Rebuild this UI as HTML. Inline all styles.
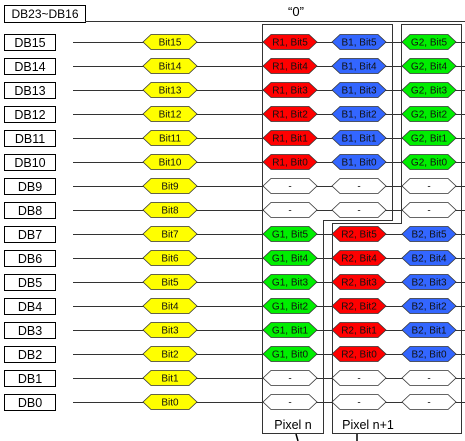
<!DOCTYPE html>
<html><head><meta charset="utf-8"><style>
body{margin:0;background:#fff;}
svg{display:block;font-family:"Liberation Sans",sans-serif;}
</style></head><body>
<svg id="c" width="465" height="441" viewBox="0 0 465 441">
<rect x="4.5" y="5.5" width="81" height="17" fill="#fff" stroke="#000"/>
<text x="45" y="18" font-size="12" text-anchor="middle">DB23~DB16</text>
<line x1="85" y1="21.5" x2="465" y2="21.5" stroke="#333"/>
<text x="296" y="16" font-size="13" text-anchor="middle">“0”</text>
<g id="rows"></g>
<polygon points="262.5,24.5 392.5,24.5 392.5,220.5 323.5,220.5 323.5,433.5 262.5,433.5" fill="none" stroke="#333"/>
<polygon points="401.5,24.5 461.5,24.5 461.5,433.5 332.5,433.5 332.5,223.5 401.5,223.5" fill="none" stroke="#333"/>
<text x="293" y="429" font-size="12.5" text-anchor="middle">Pixel n</text>
<text x="368" y="429" font-size="12.5" text-anchor="middle">Pixel n+1</text>
<line x1="296" y1="434" x2="298" y2="441" stroke="#000" stroke-width="1.5"/>
<line x1="357" y1="434" x2="357" y2="441" stroke="#000" stroke-width="1.5"/>
</svg>
<script>
const rowLabels=["DB15","DB14","DB13","DB12","DB11","DB10","DB9","DB8","DB7","DB6","DB5","DB4","DB3","DB2","DB1","DB0"];
const colA=["R1, Bit5","R1, Bit4","R1, Bit3","R1, Bit2","R1, Bit1","R1, Bit0","-","-","G1, Bit5","G1, Bit4","G1, Bit3","G1, Bit2","G1, Bit1","G1, Bit0","-","-"];
const colB=["B1, Bit5","B1, Bit4","B1, Bit3","B1, Bit2","B1, Bit1","B1, Bit0","-","-","R2, Bit5","R2, Bit4","R2, Bit3","R2, Bit2","R2, Bit1","R2, Bit0","-","-"];
const colC=["G2, Bit5","G2, Bit4","G2, Bit3","G2, Bit2","G2, Bit1","G2, Bit0","-","-","B2, Bit5","B2, Bit4","B2, Bit3","B2, Bit2","B2, Bit1","B2, Bit0","-","-"];
const NS="http://www.w3.org/2000/svg";
const g=document.getElementById('rows');
function mk(t,a){const e=document.createElementNS(NS,t);for(const k in a)e.setAttribute(k,a[k]);return e;}
function col(s){if(s==='-')return '#fff';const c=s[0];return c==='R'?'#ff0000':c==='G'?'#00ee00':'#3366ff';}
function hex(cx,cy,label,fill,name){
  const w=27,h=7.5,p=8;
  const poly=mk('polygon',{points:`${cx-w},${cy} ${cx-w+p},${cy-h} ${cx+w-p},${cy-h} ${cx+w},${cy} ${cx+w-p},${cy+h} ${cx-w+p},${cy+h}`,fill:fill,stroke:'#333','stroke-width':'0.8'});
  
  
  g.appendChild(poly);
  const t=mk('text',{x:cx,y:cy+3.5,'font-size':'10','text-anchor':'middle',fill:'#111'});
  t.textContent=label;
  
  
  g.appendChild(t);
}
rowLabels.forEach((lab,i)=>{
  const y=42+i*24;
  const ln=mk('line',{x1:73,y1:y+0.5,x2:465,y2:y+0.5,stroke:'#333'});
  
  
  g.appendChild(ln);
  const r=mk('rect',{x:4.5,y:y-7.5,width:51,height:16,fill:'#fff',stroke:'#000'});
  
  
  g.appendChild(r);
  const t=mk('text',{x:30,y:y+5,'font-size':'12.5','text-anchor':'middle'});
  t.textContent=lab;
  
  
  g.appendChild(t);
  hex(170,y,'Bit'+(15-i),'#ffff00','bit-hex');
  hex(290,y,colA[i],col(colA[i]),'pixel-n-hex');
  hex(359,y,colB[i],col(colB[i]),'mid-hex');
  hex(429,y,colC[i],col(colC[i]),'right-hex');
});
</script>
</body></html>
